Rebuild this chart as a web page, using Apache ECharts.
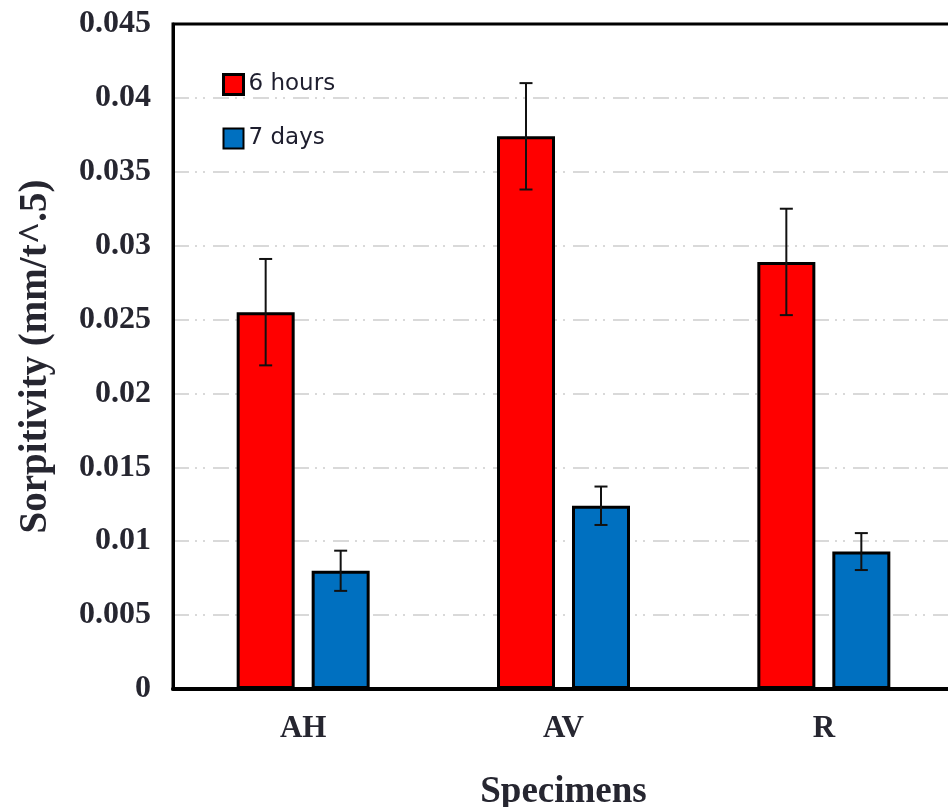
<!DOCTYPE html>
<html>
<head>
<meta charset="utf-8">
<script src="https://cdn.jsdelivr.net/npm/echarts@6/dist/echarts.min.js"></script>
<style>
html,body{margin:0;padding:0;overflow:hidden;background:#fff;}
#c{width:960px;height:807px;}
</style>
</head>
<body>
<div id="c"></div>
<script>
var categories = ['AH', 'AV', 'R'];
var seriesNames = ['6 hours', '7 days'];
var hours6 = [0.0255, 0.0374, 0.0289];
var hours6Err = [0.0036, 0.0036, 0.0036];
var days7 = [0.0080, 0.0124, 0.0093];
var days7Err = [0.00136, 0.0013, 0.00125];
var yTicks = { min: 0, max: 0.045, interval: 0.005 };

var BAR_W = 58, GAP = 17;
var OFFSET = (BAR_W + GAP) / 2;
var textColor = '#262630';
var serif = '"Liberation Serif", "Times New Roman", serif';

function errSeries(vals, errs, off) {
  return {
    type: 'custom',
    z: 10,
    silent: true,
    data: vals.map(function (v, i) { return [i, v - errs[i], v + errs[i]]; }),
    renderItem: function (params, api) {
      var lo = api.coord([api.value(0), api.value(1)]);
      var hi = api.coord([api.value(0), api.value(2)]);
      var x = lo[0] + off;
      var cw = 6.5;
      var st = { stroke: '#111', lineWidth: 2 };
      return {
        type: 'group',
        children: [
          { type: 'line', shape: { x1: x, y1: lo[1], x2: x, y2: hi[1] }, style: st },
          { type: 'line', shape: { x1: x - cw, y1: lo[1], x2: x + cw, y2: lo[1] }, style: st },
          { type: 'line', shape: { x1: x - cw, y1: hi[1], x2: x + cw, y2: hi[1] }, style: st }
        ]
      };
    }
  };
}

var chart = echarts.init(document.getElementById('c'));
chart.setOption({
  animation: false,
  grid: { left: 173, right: 6, top: 24, bottom: 118, outerBoundsMode: 'none', containLabel: false, show: true, borderColor: '#000', borderWidth: 3, backgroundColor: 'transparent' },
  legend: {
    orient: 'vertical',
    left: 217, top: 68,
    icon: 'rect',
    itemWidth: 20, itemHeight: 20, itemGap: 31,
    textStyle: { fontFamily: '"DejaVu Sans", sans-serif', fontSize: 23, color: '#1e1e2e' },
    data: [
      { name: seriesNames[0], itemStyle: { color: '#ff0000', borderColor: '#000', borderWidth: 3 } },
      { name: seriesNames[1], itemStyle: { color: '#0070c0', borderColor: '#000', borderWidth: 2 } }
    ]
  },
  xAxis: {
    type: 'category',
    data: categories,
    name: 'Specimens',
    nameLocation: 'middle',
    nameGap: 85,
    nameTextStyle: { fontFamily: serif, fontWeight: 'bold', fontSize: 37, color: textColor },
    axisLine: { lineStyle: { color: '#000', width: 4 } },
    axisTick: { show: false },
    axisLabel: { fontFamily: serif, fontWeight: 'bold', fontSize: 31, color: textColor, margin: 24 }
  },
  yAxis: {
    type: 'value',
    min: yTicks.min, max: yTicks.max, interval: yTicks.interval,
    name: 'Sorpitivity (mm/t^.5)',
    nameLocation: 'middle',
    nameGap: 118,
    nameTextStyle: { fontFamily: serif, fontWeight: 'bold', fontSize: 39, color: textColor },
    axisLine: { show: true, lineStyle: { color: '#000', width: 3 } },
    axisTick: { show: false },
    axisLabel: {
      fontFamily: serif, fontWeight: 'bold', fontSize: 32, color: textColor, margin: 22,
      formatter: function (v) { return v === 0 ? '0' : String(+v.toFixed(3)); }
    },
    splitLine: { show: true, showMaxLine: false, showMinLine: false, lineStyle: { color: '#d9d9d9', width: 2, type: [16, 6, 2, 6, 2, 8] } }
  },
  series: [
    {
      name: seriesNames[0], type: 'bar', data: hours6, barWidth: BAR_W, barGap: (GAP / BAR_W * 100).toFixed(1) + '%',
      itemStyle: { color: '#ff0000', borderColor: '#000', borderWidth: 3 }
    },
    {
      name: seriesNames[1], type: 'bar', data: days7, barWidth: BAR_W,
      itemStyle: { color: '#0070c0', borderColor: '#000', borderWidth: 3 }
    },
    errSeries(hours6, hours6Err, -OFFSET),
    errSeries(days7, days7Err, OFFSET)
  ]
});
</script>
</body>
</html>
